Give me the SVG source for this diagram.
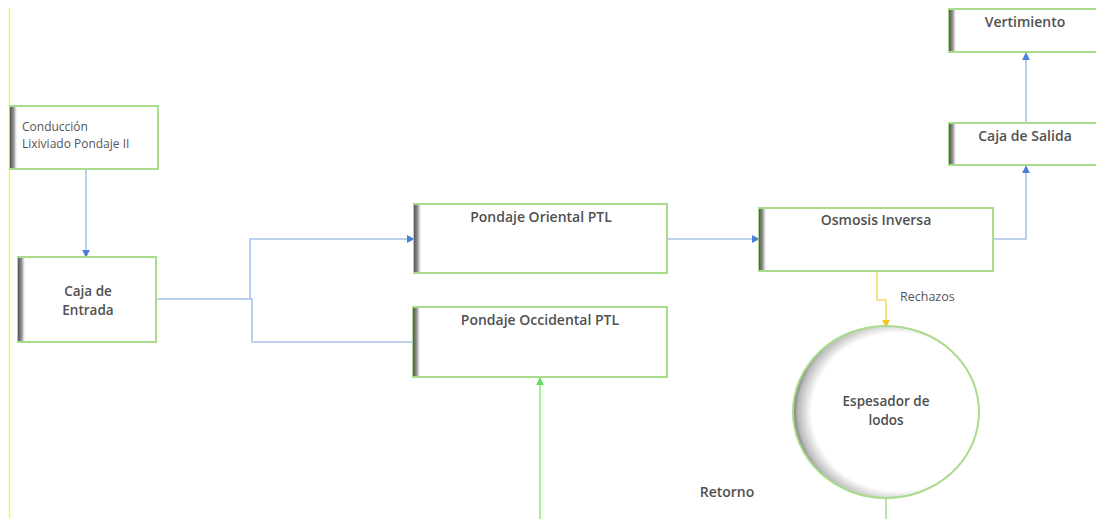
<svg xmlns="http://www.w3.org/2000/svg" width="1096" height="519" viewBox="0 0 1096 519">
<defs>
<linearGradient id="bar" x1="0" y1="0" x2="1" y2="0">
<stop offset="0" stop-color="#555"/>
<stop offset="0.5" stop-color="#999"/>
<stop offset="1" stop-color="#fff" stop-opacity="0"/>
</linearGradient>
<radialGradient id="circ" cx="0.56" cy="0.5" r="0.56">
<stop offset="0.82" stop-color="#fff"/>
<stop offset="0.95" stop-color="#bbb"/>
<stop offset="1" stop-color="#777"/>
</radialGradient>
<marker id="ab" viewBox="0 0 10 10" refX="9" refY="5" markerWidth="8" markerHeight="8" orient="auto" markerUnits="userSpaceOnUse"><path d="M0,0 L10,5 L0,10 z" fill="#4a7fd6"/></marker>
<marker id="ay" viewBox="0 0 10 10" refX="9" refY="5" markerWidth="8" markerHeight="8" orient="auto" markerUnits="userSpaceOnUse"><path d="M0,0 L10,5 L0,10 z" fill="#f5c518"/></marker>
<marker id="ag" viewBox="0 0 10 10" refX="9" refY="5" markerWidth="8" markerHeight="8" orient="auto" markerUnits="userSpaceOnUse"><path d="M0,0 L10,5 L0,10 z" fill="#5ee05e"/></marker>
</defs>
<style>
.box{fill:#fff;stroke:#a9dc8a;stroke-width:2}
.t{font-family:"Open Sans","Noto Sans",sans-serif;font-size:14px;font-weight:600;fill:#505050;text-anchor:middle}
.t2{font-size:13.5px}
.ts{font-family:"Open Sans","Noto Sans",sans-serif;font-size:12px;fill:#555}
.lb{fill:none;stroke:#a9c3ec;stroke-width:1.6}
</style>
<rect width="1096" height="519" fill="#fff"/>
<line x1="9.5" y1="8" x2="9.5" y2="518" stroke="#ffff00" stroke-width="1.3"/>

<g id="connectors">
<line class="lb" x1="86" y1="169" x2="86" y2="257" marker-end="url(#ab)"/>
<polyline class="lb" points="156,299 250,299 250,239 414,239" marker-end="url(#ab)"/>
<polyline class="lb" points="250,299 252,299 252,342 413,342"/>
<line class="lb" x1="667" y1="239" x2="759" y2="239" marker-end="url(#ab)"/>
<polyline class="lb" points="993,239 1026,239 1026,166" marker-end="url(#ab)"/>
<line class="lb" x1="1026" y1="123" x2="1026" y2="53" marker-end="url(#ab)"/>
<polyline points="877,271 877,300 886,300 886,327" fill="none" stroke="#f8d66a" stroke-width="1.6" marker-end="url(#ay)"/>
<line x1="540" y1="519" x2="540" y2="378" stroke="#9ef08a" stroke-width="1.8" marker-end="url(#ag)"/>
<line x1="886" y1="498" x2="886" y2="519" stroke="#a9dc8a" stroke-width="1.6"/>
<text class="ts" x="900" y="301" style="font-size:12.5px">Rechazos</text>
<text class="t" x="727" y="497">Retorno</text>
</g>

<g id="conduccion">
<rect class="box" x="10" y="106" width="148" height="63"/>
<rect x="10" y="107" width="8" height="61" fill="url(#bar)"/>
<text class="ts" x="22" y="131">Conducción</text>
<text class="ts" x="22" y="148">Lixiviado Pondaje II</text>
</g>

<g id="caja-entrada">
<rect class="box" x="18" y="257" width="138" height="85"/>
<rect x="18" y="258" width="8" height="83" fill="url(#bar)"/>
<text class="t t2" x="88" y="296">Caja de</text>
<text class="t t2" x="88" y="315">Entrada</text>
</g>

<g id="pondaje-oriental">
<rect class="box" x="414" y="204" width="253" height="69"/>
<rect x="414" y="205" width="8" height="67" fill="url(#bar)"/>
<text class="t" x="541" y="222">Pondaje Oriental PTL</text>
</g>

<g id="pondaje-occidental">
<rect class="box" x="413" y="307" width="254" height="70"/>
<rect x="413" y="308" width="8" height="68" fill="url(#bar)"/>
<text class="t" x="540" y="325">Pondaje Occidental PTL</text>
</g>

<g id="osmosis">
<rect class="box" x="759" y="208" width="234" height="63"/>
<rect x="759" y="209" width="8" height="61" fill="url(#bar)"/>
<text class="t" x="876" y="225">Osmosis Inversa</text>
</g>

<g id="caja-salida">
<rect class="box" x="949" y="123" width="150" height="42"/>
<rect x="949" y="124" width="8" height="40" fill="url(#bar)"/>
<text class="t" x="1025" y="141">Caja de Salida</text>
</g>

<g id="vertimiento">
<rect class="box" x="949" y="9" width="150" height="43"/>
<rect x="949" y="10" width="8" height="41" fill="url(#bar)"/>
<text class="t" x="1025" y="27">Vertimiento</text>
</g>

<g id="espesador">
<ellipse cx="886" cy="412" rx="93" ry="86" fill="url(#circ)" stroke="#a9dc8a" stroke-width="2"/>
<text class="t t2" x="886" y="406">Espesador de</text>
<text class="t t2" x="886" y="425">lodos</text>
</g>
</svg>
